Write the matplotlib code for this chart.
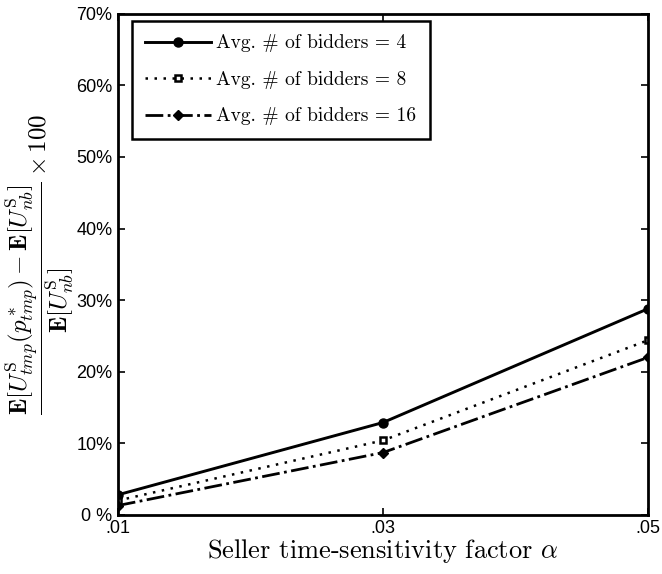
import numpy as np
import matplotlib
matplotlib.use('Agg')
import matplotlib.pyplot as plt

plt.rcParams['mathtext.fontset'] = 'cm'

# data
alpha = [0.01, 0.03, 0.05]
bidders4 = [2.8, 12.9, 28.8]
bidders8 = [2.0, 10.4, 24.4]
bidders16 = [1.3, 8.7, 22.0]

xticks = [0.01, 0.03, 0.05]
xticklabels = ['.01', '.03', '.05']
yticks = [0, 10, 20, 30, 40, 50, 60, 70]
yticklabels = ['0 %', '10%', '20%', '30%', '40%', '50%', '60%', '70%']

fig = plt.figure(figsize=(6.62, 5.74), dpi=100)
ax = fig.add_axes([0.178, 0.103, 0.801, 0.873])

ax.plot(alpha, bidders4, '-', color='k', lw=2.1, marker='o', ms=6.5,
        label='Avg. # of bidders = 4')
ax.plot(alpha, bidders8, color='k', lw=1.8, ls=(0, (1, 2.6)), marker='s',
        ms=5, mfc='white', mew=1.8, label='Avg. # of bidders = 8')
ax.plot(alpha, bidders16, '-.', color='k', lw=2.0, marker='D', ms=5.5,
        label='Avg. # of bidders = 16')

ax.set_xlim(0.01, 0.05)
ax.set_ylim(0, 70)
ax.set_xticks(xticks)
ax.set_xticklabels(xticklabels, fontfamily='Liberation Sans', fontsize=13)
ax.set_yticks(yticks)
ax.set_yticklabels(yticklabels, fontfamily='Liberation Sans', fontsize=13)
ax.tick_params(direction='in', length=5, width=1.2, top=True, right=True,
               pad=4)
for s in ax.spines.values():
    s.set_linewidth(2.0)

ax.set_xlabel(r'Seller time-sensitivity factor $\alpha$', fontfamily='cmr10',
              fontsize=19, labelpad=0)
ax.set_ylabel(r'$\dfrac{\mathbf{E}[U^{\mathrm{S}}_{tmp}(p^*_{tmp})-\mathbf{E}[U^{\mathrm{S}}_{nb}]}'
              r'{\mathbf{E}[U^{\mathrm{S}}_{nb}]}\times 100$', fontsize=18, labelpad=0)

leg = ax.legend(loc='upper left', prop={'family': 'cmr10', 'size': 14},
                fancybox=False, edgecolor='k', framealpha=1,
                handlelength=3.4, handletextpad=0.25, borderpad=0.7,
                labelspacing=0.95, borderaxespad=0,
                bbox_to_anchor=(0.026, 0.986))
leg.get_frame().set_linewidth(1.8)

fig.savefig('out.png', dpi=100)
